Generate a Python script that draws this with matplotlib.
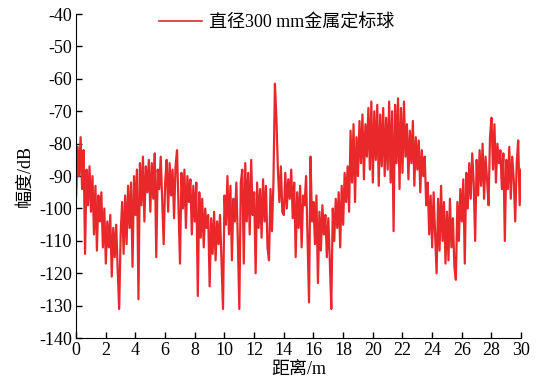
import numpy as np
import matplotlib.pyplot as plt

# range samples every 0.1 m
amp_rows = [
    [-96, -81, -90, -78, -94, -82, -114, -88, -99, -87],      # 0 m
    [-101, -90, -108, -93, -113, -96, -104, -95, -112, -100],  # 1 m
    [-117, -104, -112, -102, -121, -106, -115, -105, -119, -131],
    [-108, -98, -114, -96, -111, -93, -106, -92, -118, -90],
    [-102, -88, -128, -86, -99, -84, -104, -87, -95, -85],
    [-101, -86, -97, -83, -115, -88, -94, -84, -98, -111],     # 5 m
    [-92, -85, -101, -86, -96, -88, -103, -87, -82, -99],
    [-117, -89, -100, -88, -106, -90, -98, -91, -108, -93],
    [-104, -92, -127, -95, -109, -97, -112, -100, -106, -102],
    [-124, -103, -114, -101, -116, -104, -111, -102, -117, -131],
    [-96, -105, -90, -108, -93, -116, -97, -104, -92, -110],   # 10 m
    [-131, -92, -88, -117, -86, -104, -89, -108, -85, -102],
    [-95, -120, -92, -106, -94, -109, -91, -104, -93, -112],
    [-116, -94, -107, -92, -61.5, -72, -88, -98, -87, -101],
    [-102, -89, -100, -91, -97, -88, -103, -92, -115, -95],
    [-106, -93, -112, -96, -99, -90, -110, -129, -84, -104],   # 15 m
    [-98, -111, -96, -123, -101, -113, -99, -108, -102, -115],
    [-103, -116, -131, -100, -110, -97, -106, -95, -112, -93],
    [-105, -89, -98, -87, -101, -76, -92, -74, -98, -78],
    [-90, -73, -86, -71, -91, -74, -84, -69, -88, -67],
    [-92, -70, -85, -68, -93, -71, -87, -69, -90, -72],        # 20 m
    [-88, -67, -92, -70, -107, -68, -86, -66, -94, -69],
    [-89, -67, -84, -74, -91, -76, -86, -73, -93, -78],
    [-88, -79, -95, -82, -90, -84, -99, -92, -108, -96],
    [-112, -95, -108, -120, -97, -113, -93, -110, -98, -117],
    [-101, -116, -97, -112, -103, -118, -122, -98, -110, -94], # 25 m
    [-104, -91, -117, -89, -100, -86, -97, -83, -92, -110],
    [-85, -96, -82, -93, -80, -97, -84, -91, -99, -78],
    [-72, -88, -74, -92, -80, -86, -82, -94, -83, -110],
    [-85, -94, -81, -97, -84, -91, -104, -86, -79, -99],
    [-88],                                                      # 30 m
]
amplitude = np.concatenate([np.array(r, dtype=float) for r in amp_rows])
distance = np.arange(len(amplitude)) * 0.1

legend_label = '直径300 mm金属定标球'
x_ticks = np.arange(0, 31, 2)
y_ticks = np.arange(-140, -39, 10)

fonts = ['Liberation Serif', 'Noto Sans CJK SC']
plt.rcParams['font.family'] = fonts
plt.rcParams['axes.unicode_minus'] = False

fig = plt.figure(figsize=(5.44, 3.90), dpi=100)
ax = fig.add_axes([0.14, 0.133, 0.818, 0.831])

ax.plot(distance, amplitude, color='#e8282b', lw=1.6, label=legend_label)

ax.set_xlim(0, 30)
ax.set_ylim(-140, -40)
ax.set_xticks(x_ticks)
ax.set_yticks(y_ticks)
ax.tick_params(direction='in', length=4, width=1, labelsize=13, pad=3)
ax.spines['top'].set_visible(False)
ax.spines['right'].set_visible(False)

ax.set_xlabel('距离/m', fontsize=13, labelpad=1)
ax.set_ylabel('幅度/dB', fontsize=13, labelpad=4)

leg = ax.legend(loc='upper center', bbox_to_anchor=(0.45, 1.05), frameon=False,
                fontsize=13, handlelength=2.4, handletextpad=0.4)
leg.get_lines()[0].set_linewidth(1.2)

fig.savefig('out.png', dpi=100)
